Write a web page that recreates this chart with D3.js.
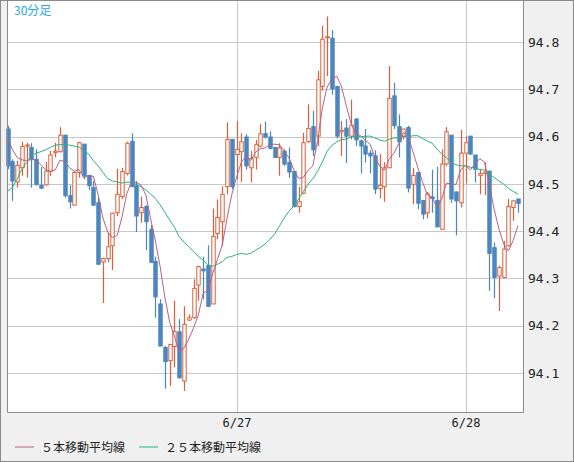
<!DOCTYPE html>
<html>
<head>
<meta charset="utf-8">
<script src="https://cdn.jsdelivr.net/npm/d3@7"></script>
<style>
  body { margin: 0; background: #f0f0f0; }
  svg { display: block; }
  text { font-family: "DejaVu Sans Mono", monospace; }
</style>
</head>
<body>
<div id="chart"></div>
<script>
// 30-minute candles, [open, high, low, close]
const opens  = [94.616,94.547,94.504,94.534,94.580,94.577,94.552,94.497,94.498,94.527,94.566,94.568,94.603,94.475,94.455,94.524,94.584,94.518,94.492,94.460,94.335,94.342,94.369,94.439,94.473,94.522,94.590,94.496,94.439,94.452,94.403,94.336,94.246,94.154,94.126,94.156,94.187,94.083,94.212,94.217,94.286,94.320,94.327,94.246,94.395,94.420,94.494,94.594,94.562,94.568,94.599,94.534,94.556,94.580,94.606,94.599,94.577,94.556,94.569,94.545,94.526,94.452,94.480,94.589,94.621,94.601,94.706,94.809,94.808,94.706,94.610,94.618,94.601,94.637,94.591,94.580,94.565,94.559,94.490,94.494,94.534,94.686,94.621,94.601,94.619,94.499,94.524,94.465,94.439,94.472,94.465,94.404,94.542,94.603,94.483,94.460,94.565,94.601,94.561,94.518,94.522,94.527,94.365,94.305,94.302,94.369,94.450,94.468];
const highs  = [94.623,94.552,94.549,94.589,94.587,94.586,94.573,94.536,94.546,94.570,94.587,94.620,94.603,94.497,94.527,94.589,94.584,94.518,94.506,94.471,94.344,94.397,94.439,94.532,94.534,94.589,94.607,94.506,94.473,94.455,94.413,94.346,94.256,94.157,94.162,94.253,94.214,94.241,94.224,94.298,94.327,94.346,94.370,94.448,94.467,94.495,94.630,94.594,94.633,94.607,94.605,94.570,94.593,94.627,94.632,94.611,94.577,94.586,94.573,94.577,94.526,94.494,94.608,94.668,94.654,94.739,94.834,94.854,94.825,94.706,94.633,94.637,94.678,94.639,94.594,94.616,94.571,94.571,94.563,94.546,94.749,94.714,94.647,94.616,94.623,94.534,94.524,94.465,94.483,94.530,94.536,94.573,94.620,94.603,94.483,94.614,94.601,94.601,94.561,94.532,94.546,94.527,94.376,94.327,94.379,94.468,94.465,94.468];
const lows   = [94.531,94.464,94.492,94.517,94.513,94.492,94.496,94.489,94.496,94.517,94.556,94.566,94.471,94.448,94.455,94.513,94.510,94.487,94.453,94.330,94.248,94.334,94.318,94.432,94.468,94.518,94.494,94.398,94.418,94.360,94.334,94.217,94.157,94.067,94.073,94.112,94.088,94.062,94.210,94.215,94.253,94.256,94.241,94.246,94.383,94.369,94.478,94.489,94.510,94.504,94.530,94.503,94.530,94.577,94.596,94.573,94.555,94.517,94.538,94.513,94.450,94.439,94.478,94.587,94.559,94.580,94.697,94.728,94.689,94.596,94.559,94.544,94.594,94.580,94.522,94.545,94.522,94.478,94.469,94.462,94.534,94.616,94.556,94.594,94.482,94.457,94.446,94.425,94.427,94.439,94.409,94.404,94.538,94.460,94.391,94.450,94.501,94.563,94.503,94.478,94.476,94.274,94.258,94.231,94.302,94.367,94.422,94.439];
const closes = [94.538,94.506,94.539,94.579,94.582,94.552,94.499,94.491,94.527,94.561,94.569,94.603,94.475,94.462,94.524,94.587,94.517,94.496,94.455,94.330,94.342,94.367,94.438,94.478,94.526,94.586,94.494,94.432,94.450,94.420,94.334,94.261,94.157,94.124,94.160,94.188,94.090,94.203,94.217,94.279,94.325,94.316,94.241,94.389,94.429,94.478,94.594,94.494,94.573,94.589,94.538,94.554,94.583,94.606,94.599,94.575,94.556,94.576,94.542,94.525,94.452,94.462,94.587,94.617,94.572,94.720,94.806,94.811,94.701,94.601,94.613,94.601,94.624,94.593,94.580,94.563,94.559,94.489,94.497,94.534,94.681,94.623,94.589,94.616,94.491,94.518,94.459,94.436,94.479,94.469,94.409,94.542,94.610,94.468,94.464,94.565,94.587,94.563,94.531,94.522,94.525,94.353,94.302,94.323,94.362,94.452,94.464,94.459];
// moving-average values before a full window exists
const ma5Start  = [94.598,94.573,94.556,94.551];
const ma25Start = [94.485,94.492,94.510,94.531,94.545,94.559,94.565,94.568,94.572,94.577,94.582,94.583,94.583,94.582,94.580,94.578,94.570,94.563,94.549,94.538,94.524,94.511,94.506,94.504];
const yTicks = [94.1,94.2,94.3,94.4,94.5,94.6,94.7,94.8];
const dateTicks = [48, 96];
const dateLabels = ["6/27", "6/28"];

const W = 574, H = 462;
const plot = { left: 7, right: 523, top: 1, bottom: 412 };

const data = opens.map((o, i) => ({ i, o, h: highs[i], l: lows[i], c: closes[i] }));

function movingAvg(n, start) {
  return closes.map((c, i) => {
    if (i < n - 1) return start[i];
    return d3.mean(closes.slice(i - n + 1, i + 1));
  });
}
const ma5 = movingAvg(5, ma5Start);
const ma25 = movingAvg(25, ma25Start);

const x = d3.scaleLinear().domain([0, 96]).range([7.5, 465.5]);
const y = d3.scaleLinear().domain([94.1, 94.8]).range([373, 42]);

const svg = d3.select("#chart").append("svg").attr("width", W).attr("height", H);

svg.append("rect").attr("x", 0.5).attr("y", 0.5).attr("width", W - 1).attr("height", H - 1)
  .attr("fill", "#f0f0f0").attr("stroke", "#8a8a8a");
svg.append("rect").attr("x", plot.left).attr("y", plot.top)
  .attr("width", plot.right - plot.left).attr("height", plot.bottom - plot.top).attr("fill", "#fff");

// grid
const grid = svg.append("g").attr("stroke", "#c8c8c8").attr("stroke-width", 1);
grid.selectAll("line.h").data(yTicks).join("line")
  .attr("x1", plot.left).attr("x2", plot.right)
  .attr("y1", d => Math.round(y(d)) + 0.5).attr("y2", d => Math.round(y(d)) + 0.5);
grid.selectAll("line.v").data(dateTicks).join("line")
  .attr("y1", plot.top).attr("y2", plot.bottom)
  .attr("x1", d => Math.round(x(d)) + 0.5).attr("x2", d => Math.round(x(d)) + 0.5);

// y axis
const yAxis = svg.append("g").attr("transform", `translate(${plot.right},0)`)
  .call(d3.axisRight(y).tickValues(yTicks).tickFormat(d3.format(".1f")).tickSize(0).tickPadding(5));
yAxis.select(".domain").remove();
yAxis.selectAll("text").attr("font-size", 13).attr("fill", "#222");

// x axis
const xAxis = svg.append("g").attr("transform", `translate(0,${plot.bottom})`)
  .call(d3.axisBottom(x).tickValues(dateTicks).tickFormat((d, k) => dateLabels[k]).tickSize(0).tickPadding(6));
xAxis.select(".domain").remove();
xAxis.selectAll("text").attr("font-size", 12).attr("fill", "#222");

// candles
const up = "#d9603b", down = "#4a86bf", bw = 3.4;
const candles = svg.append("g");
candles.selectAll("line").data(data).join("line")
  .attr("x1", d => Math.round(x(d.i)) + 0.5).attr("x2", d => Math.round(x(d.i)) + 0.5)
  .attr("y1", d => y(d.h)).attr("y2", d => y(d.l))
  .attr("stroke", d => d.c >= d.o ? up : down).attr("stroke-width", 1.2);
candles.selectAll("rect").data(data).join("rect")
  .attr("x", d => Math.round(x(d.i)) + 0.5 - bw / 2)
  .attr("y", d => y(Math.max(d.o, d.c)))
  .attr("width", bw)
  .attr("height", d => Math.max(1, Math.abs(y(d.o) - y(d.c))))
  .attr("fill", d => d.c >= d.o ? "#fff" : down)
  .attr("stroke", d => d.c >= d.o ? up : down)
  .attr("stroke-width", 1);

// moving averages
const line = d3.line().x((d, i) => x(i)).y(d => y(d));
svg.append("path").datum(ma25).attr("fill", "none").attr("stroke", "#2db37a").attr("stroke-width", 1).attr("d", line);
svg.append("path").datum(ma5).attr("fill", "none").attr("stroke", "#b5608a").attr("stroke-width", 1).attr("d", line);

// plot border
svg.append("path").attr("fill", "none").attr("stroke", "#8a8a8a")
  .attr("d", `M${plot.left + 0.5},${plot.top}V${plot.bottom + 0.5}H${plot.right + 0.5}V${plot.top}`);

svg.append("text").attr("x", 14).attr("y", 15).attr("font-size", 12).attr("fill", "#2aa8e6")
  .style("font-family", "'Noto Sans CJK JP', sans-serif").text("30分足");

// legend
const legend = [
  { label: "５本移動平均線", color: "#b5608a", x: 15 },
  { label: "２５本移動平均線", color: "#2db37a", x: 139 }
];
const lg = svg.append("g").selectAll("g").data(legend).join("g")
  .attr("transform", d => `translate(${d.x},447)`);
lg.append("line").attr("x1", 0).attr("x2", 19).attr("stroke", d => d.color);
lg.append("text").attr("x", 26).attr("y", 5).attr("font-size", 12).attr("fill", "#222")
  .style("font-family", "'Noto Sans CJK JP', sans-serif").text(d => d.label);
</script>
</body>
</html>
